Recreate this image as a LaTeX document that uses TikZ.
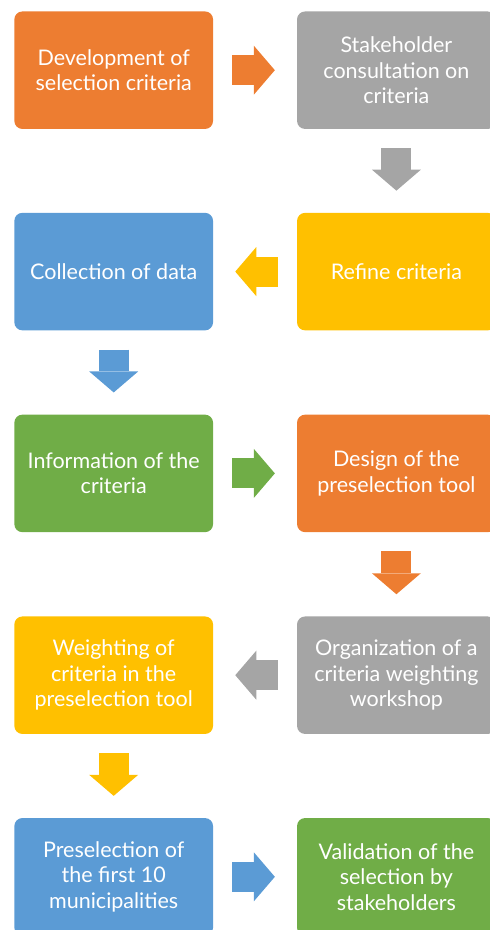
\documentclass[tikz,border=0pt]{standalone}
\usepackage{fontspec}
\setmainfont{Lato}
\usetikzlibrary{arrows.meta}
\definecolor{accorange}{HTML}{ED7D31}
\definecolor{accgray}{HTML}{A5A5A5}
\definecolor{accyellow}{HTML}{FFC000}
\definecolor{accblue}{HTML}{5B9BD5}
\definecolor{accgreen}{HTML}{70AD47}
\tikzset{
    stepbox/.style={fill=#1,text=white,rounded corners=8pt,align=center,
        minimum width=198.7pt,minimum height=117.5pt,inner sep=0pt,
        font=\fontsize{21.5}{25.5}\selectfont},
    flowarrow/.style={draw=#1,line width=30pt,
        -{Triangle[length=21pt,width=49pt,line width=0pt]}}
}

\begin{document}
\begin{tikzpicture}[x=1pt,y=-1pt]
        \useasboundingbox (0,0) rectangle (490,930);
        \clip (0,0) rectangle (490,930);
        \node[stepbox=accorange] (dev) at (113.7,70.2) {Development of\\selection criteria};
        \node[stepbox=accgray] (cons) at (396.4,70.2) {Stakeholder\\consultation on\\criteria};
        \node[stepbox=accyellow] (refine) at (396.4,271.6) {Refine criteria};
        \node[stepbox=accblue] (collect) at (113.7,271.6) {Collection of data};
        \node[stepbox=accgreen] (info) at (113.7,473.4) {Information of the\\criteria};
        \node[stepbox=accorange] (design) at (396.4,473.4) {Design of the\\preselection tool};
        \node[stepbox=accgray] (workshop) at (396.4,675.2) {Organization of a\\criteria weighting\\workshop};
        \node[stepbox=accyellow] (weight) at (113.7,675.2) {Weighting of\\criteria in the\\preselection tool};
        \node[stepbox=accblue] (presel) at (113.7,876.8) {Preselection of\\the first 10\\municipalities};
        \node[stepbox=accgreen] (valid) at (396.4,876.8) {Validation of the\\selection by\\stakeholders};
        \path
            ([xshift=19pt]dev.east) edge[flowarrow=accorange] ([xshift=-22pt]cons.west)
            ([yshift=-19pt]cons.south) edge[flowarrow=accgray] ([yshift=22pt]refine.north)
            ([xshift=-19pt]refine.west) edge[flowarrow=accyellow] ([xshift=22pt]collect.east)
            ([yshift=-19pt]collect.south) edge[flowarrow=accblue] ([yshift=22pt]info.north)
            ([xshift=19pt]info.east) edge[flowarrow=accgreen] ([xshift=-22pt]design.west)
            ([yshift=-19pt]design.south) edge[flowarrow=accorange] ([yshift=22pt]workshop.north)
            ([xshift=-19pt]workshop.west) edge[flowarrow=accgray] ([xshift=22pt]weight.east)
            ([yshift=-19pt]weight.south) edge[flowarrow=accyellow] ([yshift=22pt]presel.north)
            ([xshift=19pt]presel.east) edge[flowarrow=accblue] ([xshift=-22pt]valid.west);
    \end{tikzpicture}
\end{document}
